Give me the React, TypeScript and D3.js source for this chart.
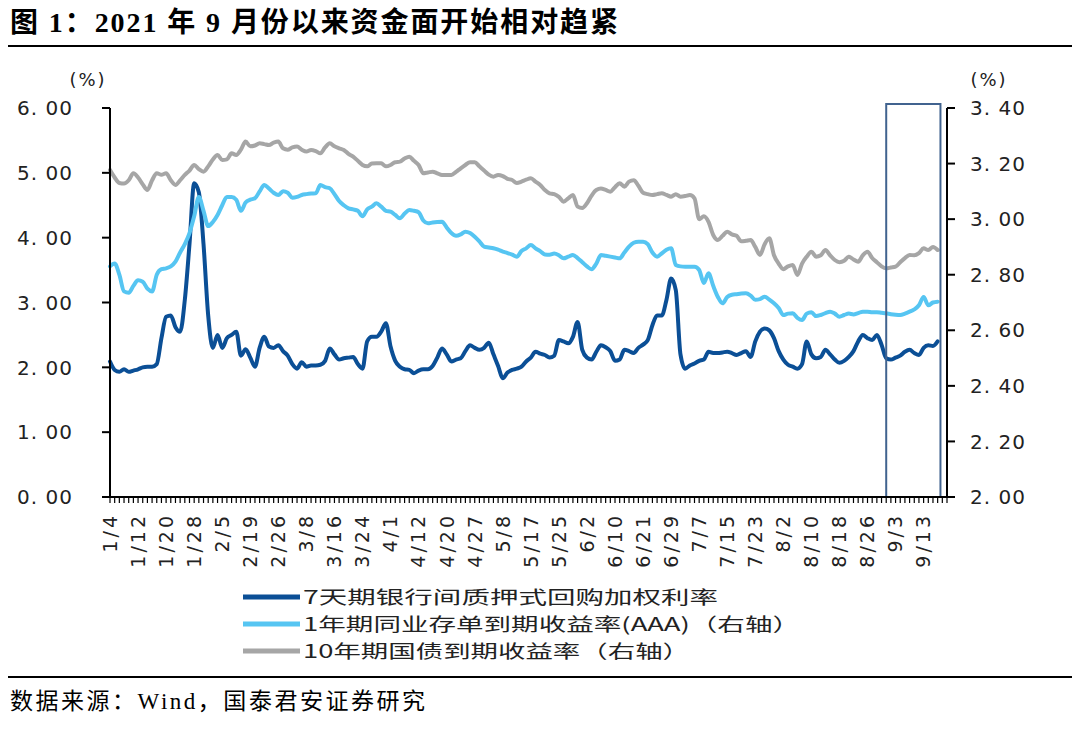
import React from 'react';
import * as d3 from 'd3';

// Trading days (interbank calendar) 2021, month -> days
const tradingDays: [number, number[]][] = [
  [1, [4, 5, 6, 7, 8, 11, 12, 13, 14, 15, 18, 19, 20, 21, 22, 25, 26, 27, 28, 29]],
  [2, [1, 2, 3, 4, 5, 7, 8, 9, 10, 18, 19, 20, 22, 23, 24, 25, 26]],
  [3, [1, 2, 3, 4, 5, 8, 9, 10, 11, 12, 15, 16, 17, 18, 19, 22, 23, 24, 25, 26, 29, 30, 31]],
  [4, [1, 2, 6, 7, 8, 9, 12, 13, 14, 15, 16, 19, 20, 21, 22, 23, 25, 26, 27, 28, 29, 30]],
  [5, [6, 7, 8, 10, 11, 12, 13, 14, 17, 18, 19, 20, 21, 24, 25, 26, 27, 28, 31]],
  [6, [1, 2, 3, 4, 7, 8, 9, 10, 11, 15, 16, 17, 18, 21, 22, 23, 24, 25, 28, 29, 30]],
  [7, [1, 2, 5, 6, 7, 8, 9, 12, 13, 14, 15, 16, 19, 20, 21, 22, 23, 26, 27, 28, 29, 30]],
  [8, [2, 3, 4, 5, 6, 9, 10, 11, 12, 13, 16, 17, 18, 19, 20, 23, 24, 25, 26, 27, 30, 31]],
  [9, [1, 2, 3, 6, 7, 8, 9, 10, 13, 14, 15, 16, 17, 18]],
];
const dates: string[] = tradingDays.flatMap(([m, ds]) => ds.map((d) => `${m}/${d}`));

// 7天期银行间质押式回购加权利率 (left axis)
const repo7d = [
  2.09, 1.96, 1.93, 1.97, 1.93, 1.95, 1.97, 2.0, 2.01, 2.01,
  2.05, 2.45, 2.78, 2.8, 2.62, 2.55, 3.04, 3.9, 4.84, 4.7,
  3.9, 2.8, 2.3, 2.5, 2.3, 2.45, 2.5, 2.55, 2.18, 2.28,
  2.15, 2.01, 2.3, 2.47, 2.32, 2.3, 2.34, 2.25, 2.18, 2.05,
  1.98, 2.08, 2.01, 2.03, 2.03, 2.04, 2.1, 2.29, 2.2, 2.12,
  2.14, 2.15, 2.16, 2.05, 1.98, 2.4, 2.47, 2.47, 2.55, 2.68,
  2.32, 2.1, 2.01, 1.97, 1.96, 1.91, 1.95, 1.97, 1.97, 2.02,
  2.15, 2.29, 2.2, 2.09, 2.12, 2.14, 2.25, 2.34, 2.3, 2.27,
  2.3, 2.38, 2.2, 2.02, 1.83, 1.92, 1.96, 1.98, 2.01, 2.09,
  2.15, 2.24, 2.21, 2.19, 2.15, 2.18, 2.42, 2.4, 2.37, 2.47,
  2.7, 2.27, 2.15, 2.12, 2.24, 2.34, 2.31, 2.25, 2.1, 2.12,
  2.27, 2.25, 2.22, 2.3, 2.35, 2.42, 2.65, 2.8, 2.8, 3.04,
  3.37, 3.19, 2.2, 1.98, 2.03, 2.06, 2.1, 2.12, 2.24, 2.22,
  2.22, 2.23, 2.24, 2.22, 2.19, 2.22, 2.25, 2.16, 2.4, 2.55,
  2.6, 2.57, 2.45, 2.25, 2.12, 2.04, 2.01, 1.98, 2.05, 2.4,
  2.2, 2.14, 2.16, 2.27, 2.2, 2.12, 2.07, 2.1, 2.16, 2.25,
  2.4, 2.5, 2.45, 2.42, 2.5, 2.35, 2.14, 2.12, 2.15, 2.18,
  2.24, 2.27, 2.22, 2.19, 2.3, 2.34, 2.33, 2.4,
];

// 1年期同业存单到期收益率(AAA) (right axis)
const ncd1y = [
  2.83, 2.84, 2.8, 2.74, 2.735, 2.76, 2.78, 2.775, 2.75, 2.74,
  2.8, 2.82, 2.823, 2.83, 2.847, 2.88, 2.91, 2.95, 3.01, 3.08,
  3.03, 2.975, 2.99, 3.015, 3.05, 3.08, 3.08, 3.07, 3.03, 3.06,
  3.07, 3.075, 3.1, 3.123, 3.11, 3.095, 3.087, 3.1, 3.095, 3.077,
  3.08, 3.087, 3.09, 3.092, 3.093, 3.123, 3.115, 3.111, 3.09, 3.065,
  3.05, 3.039, 3.035, 3.03, 3.01, 3.035, 3.045, 3.057, 3.045, 3.03,
  3.027, 3.015, 3.003, 3.02, 3.033, 3.03, 3.025, 2.995, 2.985, 2.988,
  2.99, 2.991, 2.97, 2.95, 2.94, 2.945, 2.955, 2.95, 2.937, 2.92,
  2.901, 2.898, 2.895, 2.89, 2.883, 2.878, 2.872, 2.865, 2.885, 2.895,
  2.907, 2.895, 2.885, 2.873, 2.872, 2.876, 2.87, 2.859, 2.865, 2.871,
  2.86, 2.845, 2.83, 2.82, 2.84, 2.871, 2.868, 2.865, 2.862, 2.859,
  2.88, 2.901, 2.915, 2.919, 2.919, 2.91, 2.88, 2.865, 2.877, 2.89,
  2.895, 2.835, 2.83, 2.829, 2.829, 2.829, 2.817, 2.77, 2.805, 2.76,
  2.72, 2.697, 2.72, 2.728, 2.73, 2.732, 2.733, 2.725, 2.71, 2.712,
  2.721, 2.71, 2.697, 2.68, 2.655, 2.66, 2.661, 2.645, 2.637, 2.66,
  2.665, 2.651, 2.655, 2.662, 2.667, 2.66, 2.649, 2.655, 2.66, 2.657,
  2.662, 2.667, 2.667, 2.665, 2.665, 2.663, 2.661, 2.658, 2.656, 2.655,
  2.66, 2.667, 2.675, 2.69, 2.72, 2.69, 2.7, 2.703,
];

// 10年期国债到期收益率 (right axis)
const cgb10y = [
  3.177, 3.15, 3.13, 3.128, 3.14, 3.165, 3.15, 3.125, 3.105, 3.14,
  3.165, 3.16, 3.165, 3.14, 3.123, 3.14, 3.159, 3.175, 3.195, 3.18,
  3.171, 3.19, 3.215, 3.231, 3.213, 3.215, 3.237, 3.231, 3.25, 3.279,
  3.262, 3.265, 3.273, 3.27, 3.267, 3.275, 3.279, 3.255, 3.25, 3.258,
  3.261, 3.25, 3.243, 3.249, 3.245, 3.237, 3.258, 3.273, 3.262, 3.255,
  3.249, 3.235, 3.225, 3.21, 3.195, 3.19, 3.2, 3.201, 3.201, 3.19,
  3.195, 3.205, 3.207, 3.218, 3.225, 3.21, 3.195, 3.165, 3.168, 3.171,
  3.165, 3.159, 3.159, 3.159, 3.17, 3.183, 3.195, 3.205, 3.205, 3.19,
  3.175, 3.16, 3.153, 3.159, 3.155, 3.145, 3.141, 3.13, 3.135, 3.142,
  3.147, 3.135, 3.123, 3.105, 3.093, 3.09, 3.08, 3.063, 3.075, 3.087,
  3.045, 3.04, 3.057, 3.085, 3.105, 3.11, 3.105, 3.099, 3.115, 3.129,
  3.117, 3.135, 3.14, 3.12, 3.095, 3.09, 3.087, 3.09, 3.093, 3.087,
  3.081, 3.09, 3.081, 3.083, 3.087, 3.075, 3.0, 3.01, 2.99, 2.943,
  2.925, 2.94, 2.955, 2.945, 2.94, 2.92, 2.922, 2.925, 2.9, 2.871,
  2.91, 2.931, 2.87, 2.84, 2.82, 2.83, 2.835, 2.799, 2.84, 2.865,
  2.883, 2.865, 2.87, 2.889, 2.87, 2.853, 2.845, 2.85, 2.865, 2.855,
  2.847, 2.87, 2.883, 2.86, 2.845, 2.83, 2.823, 2.826, 2.829, 2.845,
  2.86, 2.871, 2.87, 2.878, 2.895, 2.889, 2.9, 2.889,
];

const leftTicks = [0, 1, 2, 3, 4, 5, 6];
const rightTicks = [2.0, 2.2, 2.4, 2.6, 2.8, 3.0, 3.2, 3.4];
const labelEvery = 6;
const highlightStart = '9/1';
const highlightEnd = '9/16';

const title = '图 1：2021 年 9 月份以来资金面开始相对趋紧';
const legendNames = [
  '7天期银行间质押式回购加权利率',
  '1年期同业存单到期收益率(AAA)（右轴）',
  '10年期国债到期收益率（右轴）',
];
const source = '数据来源：Wind，国泰君安证券研究';

const COLORS = ['#0b4f96', '#56c5f2', '#a6a6a6'];

export default function App() {
  const W = 1080;
  const H = 733;
  const left = 110;
  const right = 947;
  const top = 108;
  const bottom = 497;

  const x = d3.scalePoint<string>().domain(dates).range([left, right]);
  const step = x.step();
  const yL = d3.scaleLinear().domain([0, 6]).range([bottom, top]);
  const yR = d3.scaleLinear().domain([2, 3.4]).range([bottom, top]);

  const lineL = d3
    .line<number>()
    .x((_, i) => x(dates[i]) as number)
    .y((d) => yL(d))
    .curve(d3.curveMonotoneX);
  const lineR = d3
    .line<number>()
    .x((_, i) => x(dates[i]) as number)
    .y((d) => yR(d))
    .curve(d3.curveMonotoneX);

  const fmt = (v: number) => d3.format('.2f')(v).replace('.', '. ');
  const tickFont = "'DejaVu Sans', sans-serif";
  const cjkSans = "'Noto Sans CJK SC', sans-serif";
  const serif = "'Liberation Serif', 'Noto Sans CJK SC', serif";

  const boxX0 = x(highlightStart) as number;
  const boxX1 = (x(highlightEnd) as number) + step * 0.6;

  const legendWidths = [415, 497, 387];
  const legendY = [597, 624, 651];

  return (
    <svg
      width={W}
      height={H}
      viewBox={`0 0 ${W} ${H}`}
      style={{ position: 'absolute', left: 0, top: 0, display: 'block', background: '#fff' }}
    >
      <rect x={0} y={0} width={W} height={H} fill="#fff" />
      {/* Title */}
      <text
        x={10}
        y={32}
        fontFamily={serif}
        fontWeight="bold"
        fontSize={28}
        textLength={608}
        lengthAdjust="spacing"
        fill="#000"
      >
        {title}
      </text>
      <line x1={8} x2={1072} y1={46} y2={46} stroke="#000" strokeWidth={2} />

      {/* Unit labels */}
      <text x={88} y={86} textAnchor="middle" fontFamily={tickFont} fontSize={18} letterSpacing={2} fill="#222">
        (%)
      </text>
      <text x={989} y={86} textAnchor="middle" fontFamily={tickFont} fontSize={18} letterSpacing={2} fill="#222">
        (%)
      </text>

      {/* Series */}
      <path d={lineL(repo7d) || ''} fill="none" stroke={COLORS[0]} strokeWidth={4} strokeLinejoin="round" strokeLinecap="round" />
      <path d={lineR(ncd1y) || ''} fill="none" stroke={COLORS[1]} strokeWidth={4} strokeLinejoin="round" strokeLinecap="round" />
      <path d={lineR(cgb10y) || ''} fill="none" stroke={COLORS[2]} strokeWidth={4} strokeLinejoin="round" strokeLinecap="round" />

      {/* Highlight box */}
      <rect
        x={boxX0}
        y={yR(3.4) - 4}
        width={boxX1 - boxX0}
        height={yR(2) - yR(3.4) + 4}
        fill="none"
        stroke="#41638f"
        strokeWidth={2}
      />

      {/* Left axis */}
      <line x1={left} x2={left} y1={top} y2={bottom} stroke="#000" strokeWidth={2} />
      {leftTicks.map((t) => (
        <g key={`l${t}`}>
          <line x1={left - 8} x2={left} y1={yL(t)} y2={yL(t)} stroke="#000" strokeWidth={2} />
          <text
            x={73}
            y={yL(t)}
            dy="0.36em"
            textAnchor="end"
            fontFamily={tickFont}
            fontSize={20}
            letterSpacing={1}
            fill="#222"
          >
            {fmt(t)}
          </text>
        </g>
      ))}

      {/* Right axis */}
      <line x1={right} x2={right} y1={top} y2={bottom} stroke="#000" strokeWidth={2} />
      {rightTicks.map((t) => (
        <g key={`r${t}`}>
          <line x1={right} x2={right + 8} y1={yR(t)} y2={yR(t)} stroke="#000" strokeWidth={2} />
          <text
            x={970}
            y={yR(t)}
            dy="0.36em"
            textAnchor="start"
            fontFamily={tickFont}
            fontSize={20}
            letterSpacing={1}
            fill="#222"
          >
            {fmt(t)}
          </text>
        </g>
      ))}

      {/* X axis */}
      <line x1={left} x2={right} y1={bottom} y2={bottom} stroke="#000" strokeWidth={2} />
      {dates.map((d) => (
        <line key={`t${d}`} x1={x(d)} x2={x(d)} y1={bottom} y2={bottom + 6} stroke="#000" strokeWidth={1.2} />
      ))}
      {dates.map((d, i) =>
        i % labelEvery === 0 && i + labelEvery <= dates.length ? (
          <text
            key={`xl${d}`}
            transform={`translate(${x(d)},${513}) rotate(-90)`}
            textAnchor="end"
            dy="0.36em"
            fontFamily={tickFont}
            fontSize={19}
            letterSpacing={3}
            fill="#222"
          >
            {d}
          </text>
        ) : null
      )}

      {/* Legend */}
      {legendNames.map((name, i) => (
        <g key={name}>
          <line x1={243} x2={300} y1={legendY[i]} y2={legendY[i]} stroke={COLORS[i]} strokeWidth={5} />
          <text
            x={303}
            y={legendY[i]}
            dy="0.36em"
            fontFamily={cjkSans}
            fontSize={18.5}
            textLength={legendWidths[i]}
            lengthAdjust="spacingAndGlyphs"
            fill="#222"
          >
            {name}
          </text>
        </g>
      ))}

      <line x1={8} x2={1072} y1={677} y2={677} stroke="#000" strokeWidth={2} />
      <text x={10} y={709} fontFamily={serif} fontSize={23} textLength={415} lengthAdjust="spacing" fill="#000">
        {source}
      </text>
    </svg>
  );
}
